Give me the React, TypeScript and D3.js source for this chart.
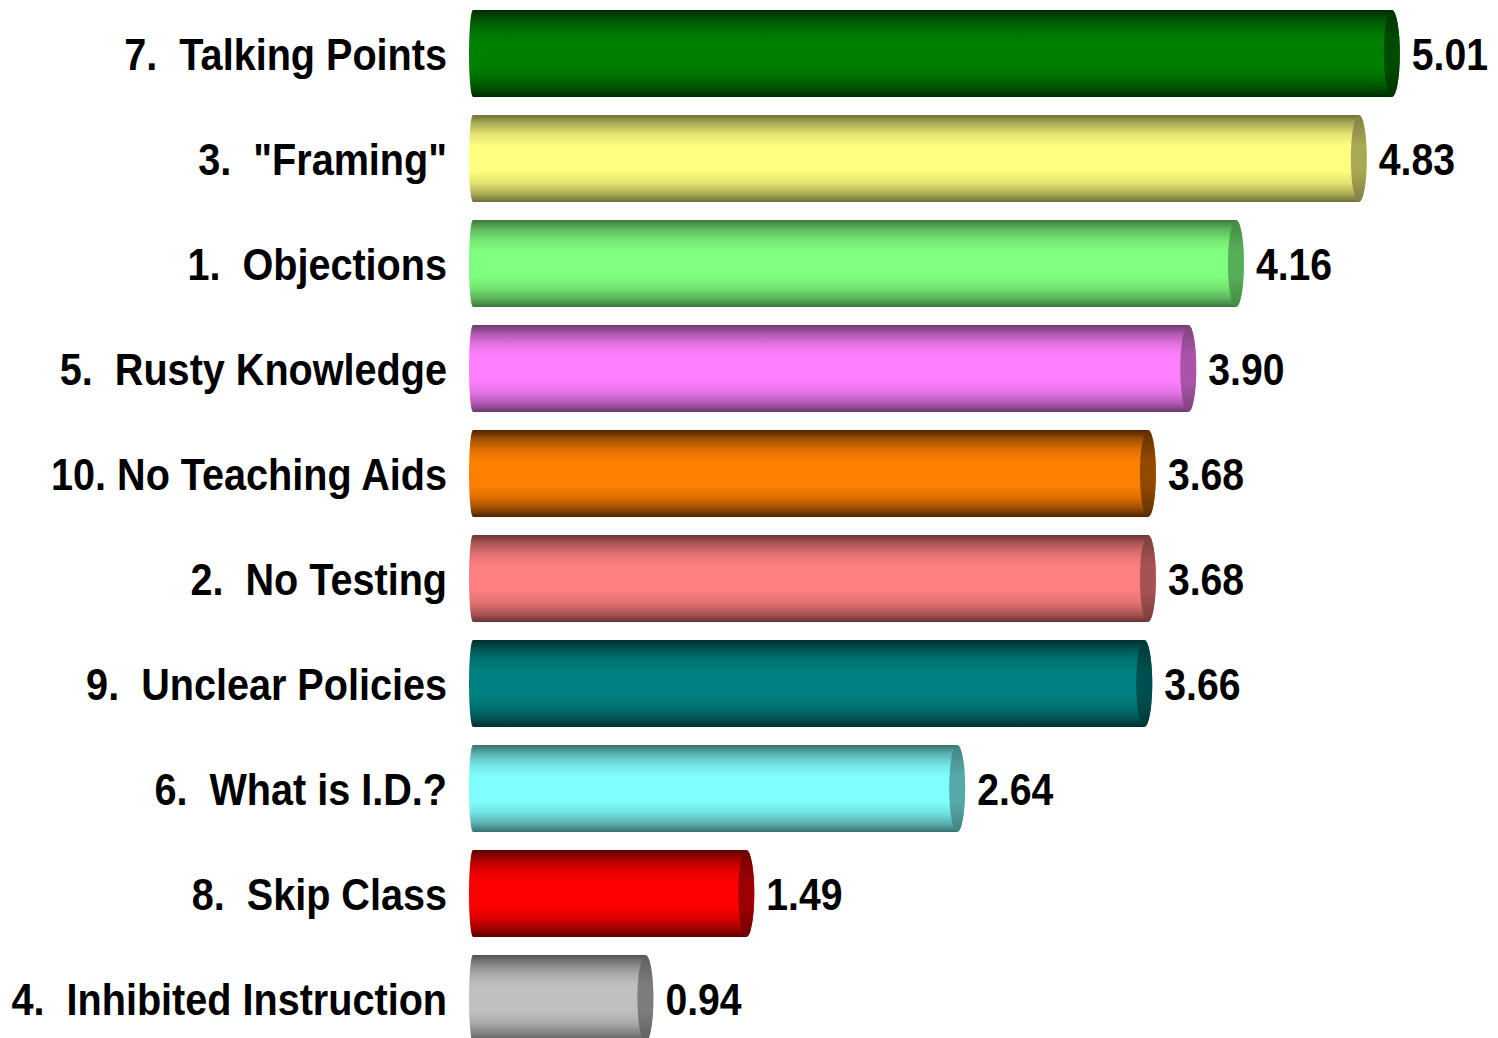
import { useEffect, useRef } from 'react';
import * as d3 from 'd3';

const LABELS = [
  '7.  Talking Points',
  '3.  "Framing"',
  '1.  Objections',
  '5.  Rusty Knowledge',
  '10. No Teaching Aids',
  '2.  No Testing',
  '9.  Unclear Policies',
  '6.  What is I.D.?',
  '8.  Skip Class',
  '4.  Inhibited Instruction'
];
const VALUES = [5.01, 4.83, 4.16, 3.9, 3.68, 3.68, 3.66, 2.64, 1.49, 0.94];
const COLORS = ['#008000', '#ffff80', '#80ff80', '#ff80ff', '#ff8000', '#ff8080', '#008080', '#80ffff', '#ff0000', '#c0c0c0'];
const EDGES = ['#002800', '#6e6e38', '#3c783c', '#6e386e', '#4a2400', '#6a3434', '#002e2e', '#3a7070', '#5a0000', '#505050'];

const W = 1498;
const H = 1038;

export default function App() {
  const svgRef = useRef<SVGSVGElement>(null);

  useEffect(() => {
    const svg = d3.select(svgRef.current);
    svg.selectAll('*').remove();

    const data = LABELS.map((label, i) => ({ label, value: VALUES[i], color: COLORS[i], edge: EDGES[i], i }));

    const x = d3.scaleLinear().domain([0, 5]).range([473, 1390]);
    const y = d3.scaleBand<string>()
      .domain(LABELS)
      .range([1, 1051])
      .paddingInner(0.17)
      .paddingOuter(0.085);
    const bh = y.bandwidth();
    const rx = 8;
    const lrx = 4;

    const defs = svg.append('defs');
    data.forEach(d => {
      const mix = d3.interpolateRgb(d.edge, d.color);
      const body = defs.append('linearGradient')
        .attr('id', `body${d.i}`)
        .attr('x1', 0).attr('y1', 0).attr('x2', 0).attr('y2', 1);
      [[0, 0], [0.1, 0.45], [0.22, 0.8], [0.36, 1], [0.64, 1], [0.78, 0.8], [0.9, 0.45], [1, 0]].forEach(([o, t]) => {
        body.append('stop').attr('offset', o).attr('stop-color', mix(t));
      });
      const capMix = d3.interpolateRgb(d.edge, d3.interpolateRgb(d.edge, d.color)(0.4));
      const cap = defs.append('linearGradient')
        .attr('id', `cap${d.i}`)
        .attr('x1', 0).attr('y1', 0).attr('x2', 0).attr('y2', 1);
      [[0, 0.3], [0.35, 1], [0.65, 1], [1, 0.3]].forEach(([o, t]) => {
        cap.append('stop').attr('offset', o).attr('stop-color', capMix(t));
      });
    });

    const g = svg.append('g');

    const bars = g.selectAll('.bar')
      .data(data)
      .enter()
      .append('g')
      .attr('class', 'bar');

    // cylinder body
    bars.append('path')
      .attr('d', d => {
        const x0 = x(0);
        const x1 = x(d.value);
        const top = y(d.label)!;
        const bot = top + bh;
        const ry = bh / 2;
        return `M${x0},${top} L${x1},${top} A${rx},${ry} 0 0 1 ${x1},${bot} L${x0},${bot} A${lrx},${ry} 0 0 1 ${x0},${top} Z`;
      })
      .attr('fill', d => `url(#body${d.i})`);

    // end cap
    bars.append('ellipse')
      .attr('cx', d => x(d.value))
      .attr('cy', d => y(d.label)! + bh / 2)
      .attr('rx', rx)
      .attr('ry', bh / 2)
      .attr('fill', d => `url(#cap${d.i})`);

    // category labels
    g.selectAll('.label')
      .data(data)
      .enter()
      .append('text')
      .attr('class', 'label')
      .attr('transform', d => `translate(447,${y(d.label)! + bh / 2 + 16}) scale(0.88,1)`)
      .attr('text-anchor', 'end')
      .attr('font-family', '"Liberation Sans", Arial, sans-serif')
      .attr('font-weight', 'bold')
      .attr('font-size', 45)
      .attr('fill', '#000')
      .style('white-space', 'pre')
      .text(d => d.label);

    // value labels
    g.selectAll('.value')
      .data(data)
      .enter()
      .append('text')
      .attr('class', 'value')
      .attr('transform', d => `translate(${x(d.value) + rx + 12},${y(d.label)! + bh / 2 + 16}) scale(0.87,1)`)
      .attr('font-family', '"Liberation Sans", Arial, sans-serif')
      .attr('font-weight', 'bold')
      .attr('font-size', 45)
      .attr('fill', '#000')
      .text(d => d.value.toFixed(2));
  }, []);

  return (
    <svg
      ref={svgRef}
      width={W}
      height={H}
      style={{ position: 'absolute', left: 0, top: 0, background: '#fff', display: 'block' }}
    />
  );
}
